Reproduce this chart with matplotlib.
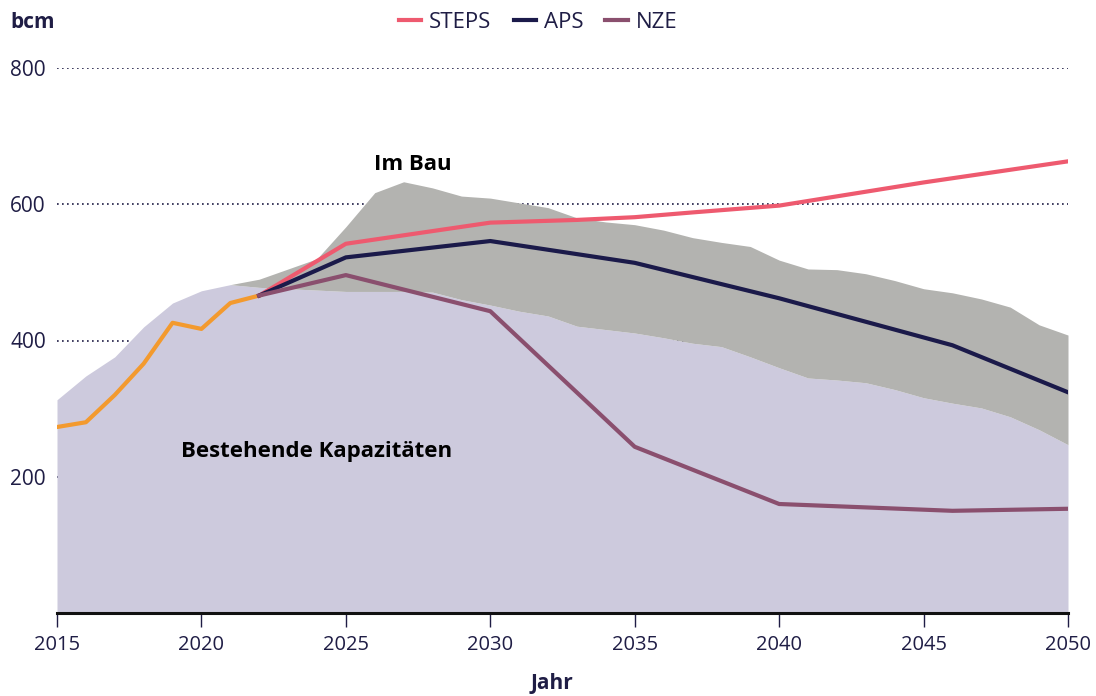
import numpy as np
import matplotlib
matplotlib.use("Agg")
from matplotlib import pyplot as plt

plt.rcParams['font.family'] = ['Open Sans', 'DejaVu Sans']

# historische Nachfrage
hist_years = [2015, 2016, 2017, 2018, 2019, 2020, 2021, 2022]
hist_vals = [273, 280, 320, 366, 426, 417, 455, 466]

# Kapazitäten (Flächen)
cap_years = list(range(2015, 2051))
bestehend = [313, 348, 376, 420, 455, 473, 482, 478, 476, 474,
             472, 472, 472, 471, 460, 452, 443, 436, 421, 416,
             411, 404, 396, 391, 376, 360, 345, 342, 338, 328,
             316, 308, 301, 288, 269, 247]
im_bau_oben = [313, 348, 376, 420, 455, 473, 482, 490, 505, 520,
               567, 617, 633, 624, 612, 609, 602, 595, 580, 574,
               570, 562, 551, 544, 538, 518, 505, 504, 498, 488,
               476, 470, 461, 449, 423, 408]

# Szenarien
steps_years = [2022, 2025, 2030, 2033, 2035, 2037, 2040, 2045, 2050]
steps_vals = [466, 542, 573, 577, 581, 588, 598, 632, 663]
aps_years = [2022, 2025, 2030, 2035, 2040, 2046, 2050]
aps_vals = [466, 522, 546, 514, 462, 393, 324]
nze_years = [2022, 2025, 2030, 2035, 2040, 2046, 2050]
nze_vals = [466, 496, 443, 244, 160, 150, 153]

navy = '#1F1D45'

fig = plt.figure(figsize=(10.96, 6.96), dpi=100)
ax = fig.add_axes([57/1096, 1-613/696, (1068-57)/1096, (613-68)/696])

ax.fill_between(cap_years, 0, bestehend, color='#CDCADD', lw=0, zorder=2)
ax.fill_between(cap_years, bestehend, im_bau_oben, color='#B3B3B0', lw=0, zorder=2)

ax.plot(hist_years, hist_vals, color='#F39A2E', lw=3, zorder=4)
ax.plot(steps_years, steps_vals, color='#EE5A6F', lw=3, label='STEPS', zorder=5)
ax.plot(aps_years, aps_vals, color='#1B1A4A', lw=3, label='APS', zorder=5)
ax.plot(nze_years, nze_vals, color='#8A4F6E', lw=3, label='NZE', zorder=5)

ax.set_xlim(2015, 2050)
ax.set_ylim(0, 800)
ax.set_xticks(range(2015, 2051, 5))
ax.set_yticks([200, 400, 600, 800])
ax.grid(axis='y', linestyle=(0, (1, 2)), color=navy, lw=1.2, zorder=1)
ax.set_axisbelow(True)

for s in ['left', 'right', 'top']:
    ax.spines[s].set_visible(False)
ax.spines['bottom'].set_linewidth(2.2)
ax.spines['bottom'].set_color('#111111')
ax.spines['bottom'].set_zorder(6)
ax.tick_params(axis='y', length=0, labelsize=15, labelcolor=navy, pad=8)
ax.tick_params(axis='x', length=10, width=1, color=navy, labelsize=14.5,
               labelcolor=navy, pad=6)

fig.text(413/1096, 1-165/696, 'Im Bau', ha='center', va='center', fontsize=16,
         fontweight='bold', color='black')
fig.text(317/1096, 1-451/696, 'Bestehende Kapazitäten', ha='center', va='center',
         fontsize=16, fontweight='bold', color='black')
fig.text(10/1096, 1-22/696, 'bcm', ha='left', va='center', fontsize=15,
         fontweight='bold', color=navy)
fig.text(552/1096, 1-684/696, 'Jahr', ha='center', va='center', fontsize=15,
         fontweight='bold', color=navy)

fig.legend(loc='center', bbox_to_anchor=(538/1096, 1-22/696), ncol=3, frameon=False,
           fontsize=16, handlelength=1.0, columnspacing=1.0, handletextpad=0.35,
           labelcolor=navy)

fig.savefig('out.png', dpi=100)
